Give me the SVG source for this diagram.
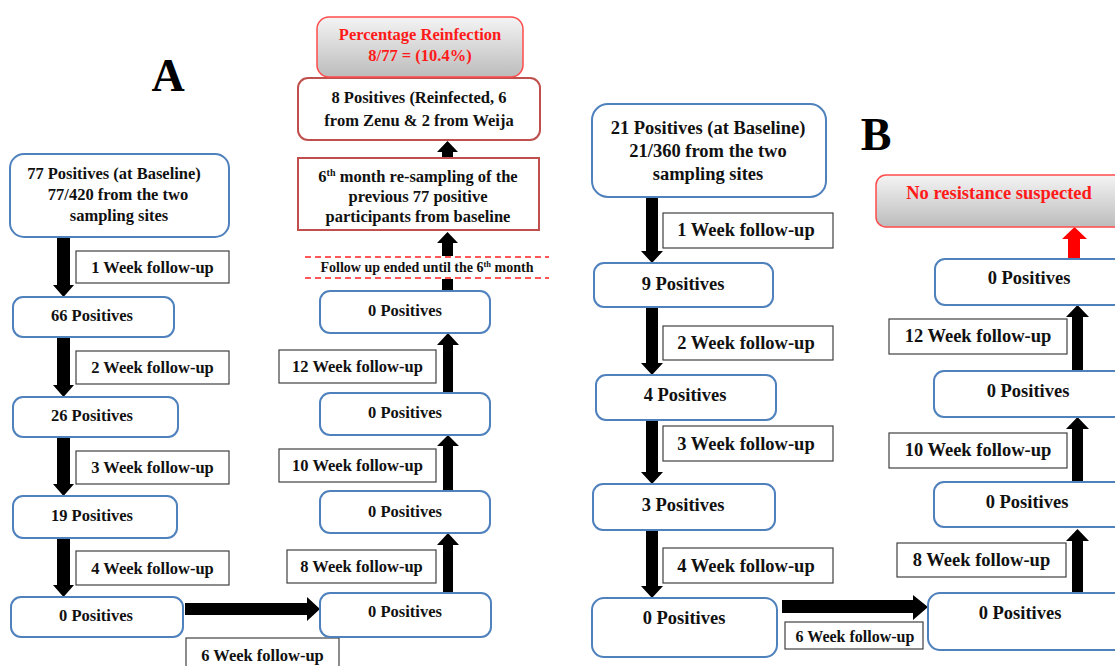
<svg xmlns="http://www.w3.org/2000/svg" width="1115" height="666" viewBox="0 0 1115 666">
<defs>
<linearGradient id="gr" x1="0" y1="0" x2="0" y2="1">
<stop offset="0" stop-color="#f4f4f4"/>
<stop offset="1" stop-color="#bcbcbc"/>
</linearGradient>
<style>
.nb{fill:#fff;stroke:#4f81bd;stroke-width:2}
.lb{fill:#fff;stroke:#404040;stroke-width:1.2}
.rb{fill:#fff;stroke:#c0504d;stroke-width:2}
.gb{fill:url(#gr);stroke:#ff4b4b;stroke-width:1.5}
text{font-family:"Liberation Serif","Times New Roman",serif;font-weight:bold;fill:#111;text-anchor:middle}
.a{font-size:16.5px}
.b{font-size:18.5px}
.red{fill:#ff1a1a}
.big{font-size:46px;fill:#000}
.sm{font-size:14px}
.ar{fill:#000}
.dash{stroke:#ff2020;stroke-width:1.5;stroke-dasharray:6 4;fill:none}
</style>
</defs>

<text class="big" x="168" y="91">A</text>
<text class="big" x="876" y="150">B</text>

<g id="connectors">
<polygon class="ar" points="57,237 70,237 70,285 74,285 63.5,297 53,285 57,285"/>
<polygon class="ar" points="57,337 70,337 70,385 74,385 63.5,397 53,385 57,385"/>
<polygon class="ar" points="57,437 70,437 70,484 74,484 63.5,496 53,484 57,484"/>
<polygon class="ar" points="57,538 70,538 70,585 74,585 63.5,597 53,585 57,585"/>
<polygon class="ar" points="185,603 307,603 307,597 320,609 307,621 307,615 185,615"/>
<polygon class="ar" points="443,593 453,593 453,545 459,545 448,533 437,545 443,545"/>
<polygon class="ar" points="443,491 453,491 453,446 459,446 448,435 437,446 443,446"/>
<polygon class="ar" points="443,393 453,393 453,345 459,345 448,333 437,345 443,345"/>
<rect class="ar" x="442" y="279" width="11" height="12"/>
<polygon class="ar" points="442,256 453,256 453,243 458,243 447.5,232 437,243 442,243"/>
<polygon class="ar" points="442,158 453,158 453,152 458,152 447.5,141 437,152 442,152"/>
<line class="dash" x1="305" y1="257" x2="549" y2="257"/>
<line class="dash" x1="305" y1="278" x2="549" y2="278"/>
<polygon class="ar" points="646,197 658,197 658,251 663,251 652,263 641,251 646,251"/>
<polygon class="ar" points="646,307 658,307 658,363 663,363 652,375 641,363 646,363"/>
<polygon class="ar" points="646,420 658,420 658,472 663,472 652,484 641,472 646,472"/>
<polygon class="ar" points="646,530 658,530 658,586 663,586 652,598 641,586 646,586"/>
<polygon class="ar" points="782,600 913,600 913,595 928,607 913,620 913,613 782,613"/>
<polygon class="ar" points="1072,593 1083,593 1083,541 1089,541 1077.5,529 1066,541 1072,541"/>
<polygon class="ar" points="1072,483 1083,483 1083,429 1089,429 1077.5,417 1066,429 1072,429"/>
<polygon class="ar" points="1072,371 1083,371 1083,317 1089,317 1077.5,305 1066,317 1072,317"/>
<polygon fill="#ff0000" points="1068,259 1080,259 1080,239 1087,239 1074.5,227 1062,239 1068,239"/>
</g>

<g id="a-baseline"><rect class="nb" x="10" y="154" width="219" height="83" rx="14"/>
<text class="a" x="114" y="179">77 Positives (at Baseline)</text>
<text class="a" x="118" y="200">77/420 from the two</text>
<text class="a" x="119" y="221">sampling sites</text></g>
<g id="a-l1"><rect class="lb" x="76" y="251" width="153" height="32"/><text class="a" x="152.5" y="273">1 Week follow-up</text></g>
<g id="a-66"><rect class="nb" x="13" y="297" width="161" height="40" rx="10"/><text class="a" x="92" y="321">66 Positives</text></g>
<g id="a-l2"><rect class="lb" x="76" y="351" width="153" height="33"/><text class="a" x="152.5" y="373">2 Week follow-up</text></g>
<g id="a-26"><rect class="nb" x="13" y="397" width="165" height="40" rx="10"/><text class="a" x="92" y="421">26 Positives</text></g>
<g id="a-l3"><rect class="lb" x="76" y="451" width="153" height="33"/><text class="a" x="152.5" y="473">3 Week follow-up</text></g>
<g id="a-19"><rect class="nb" x="13" y="496" width="164" height="42" rx="10"/><text class="a" x="92" y="521">19 Positives</text></g>
<g id="a-l4"><rect class="lb" x="76" y="551" width="153" height="34"/><text class="a" x="152.5" y="574">4 Week follow-up</text></g>
<g id="a-0a"><rect class="nb" x="11" y="597" width="172" height="40" rx="10"/><text class="a" x="96" y="621">0 Positives</text></g>
<g id="a-l6"><rect class="lb" x="186" y="638" width="153" height="34"/><text class="a" x="262.5" y="661">6 Week follow-up</text></g>
<g id="a-0b"><rect class="nb" x="320" y="593" width="171" height="44" rx="10"/><text class="a" x="405" y="617">0 Positives</text></g>
<g id="a-l8"><rect class="lb" x="287" y="550" width="149" height="33"/><text class="a" x="361.5" y="572">8 Week follow-up</text></g>
<g id="a-0c"><rect class="nb" x="320" y="491" width="170" height="42" rx="10"/><text class="a" x="405" y="517">0 Positives</text></g>
<g id="a-l10"><rect class="lb" x="279" y="449" width="157" height="33"/><text class="a" x="357.5" y="471">10 Week follow-up</text></g>
<g id="a-0d"><rect class="nb" x="320" y="393" width="170" height="42" rx="10"/><text class="a" x="405" y="418">0 Positives</text></g>
<g id="a-l12"><rect class="lb" x="279" y="350" width="157" height="33"/><text class="a" x="357.5" y="372">12 Week follow-up</text></g>
<g id="a-0e"><rect class="nb" x="320" y="291" width="170" height="42" rx="10"/><text class="a" x="405" y="316">0 Positives</text></g>
<g id="a-ended"><text class="sm" x="427" y="272">Follow up ended until the 6<tspan style="font-size:8.5px" dy="-5">th</tspan><tspan dy="5"> month</tspan></text></g>
<g id="a-resample"><rect class="rb" x="298" y="158" width="241" height="72"/>
<text class="a" x="418" y="182">6<tspan style="font-size:10px" dy="-6">th</tspan><tspan dy="6"> month re-sampling of the</tspan></text>
<text class="a" x="418" y="202">previous 77 positive</text>
<text class="a" x="418" y="222">participants from baseline</text></g>
<g id="a-reinf"><rect class="rb" x="298" y="78" width="242" height="62" rx="10"/>
<text class="a" x="419" y="103">8 Positives (Reinfected, 6</text>
<text class="a" x="419" y="126">from Zenu &amp; 2 from Weija</text></g>
<g id="a-pct"><rect class="gb" x="317" y="17" width="206" height="60" rx="12"/>
<text class="red" x="420" y="40" style="font-size:16.5px">Percentage Reinfection</text>
<text class="red" x="420" y="61" style="font-size:16.5px">8/77 = (10.4%)</text></g>

<g id="b-baseline"><rect class="nb" x="592" y="104" width="234" height="93" rx="16"/>
<text class="b" x="708" y="134">21 Positives (at Baseline)</text>
<text class="b" x="708" y="157">21/360 from the two</text>
<text class="b" x="708" y="180">sampling sites</text></g>
<g id="b-l1"><rect class="lb" x="663" y="213" width="170" height="35"/><text class="b" x="746" y="236">1 Week follow-up</text></g>
<g id="b-9"><rect class="nb" x="594" y="263" width="179" height="44" rx="10"/><text class="b" x="683" y="290">9 Positives</text></g>
<g id="b-l2"><rect class="lb" x="663" y="326" width="170" height="34"/><text class="b" x="746" y="349">2 Week follow-up</text></g>
<g id="b-4"><rect class="nb" x="596" y="375" width="180" height="45" rx="10"/><text class="b" x="685" y="401">4 Positives</text></g>
<g id="b-l3"><rect class="lb" x="663" y="426" width="170" height="35"/><text class="b" x="746" y="450">3 Week follow-up</text></g>
<g id="b-3"><rect class="nb" x="593" y="484" width="182" height="46" rx="10"/><text class="b" x="683" y="511">3 Positives</text></g>
<g id="b-l4"><rect class="lb" x="663" y="548" width="170" height="35"/><text class="b" x="746" y="572">4 Week follow-up</text></g>
<g id="b-0a"><rect class="nb" x="592" y="598" width="185" height="59" rx="12"/><text class="b" x="684" y="624">0 Positives</text></g>
<g id="b-l6"><rect class="lb" x="785" y="622" width="138" height="27"/><text x="855" y="642" style="font-size:16px">6 Week follow-up</text></g>
<g id="b-0b"><rect class="nb" x="928" y="593" width="200" height="57" rx="12"/><text class="b" x="1020" y="619">0 Positives</text></g>
<g id="b-l8"><rect class="lb" x="897" y="543" width="169" height="34"/><text class="b" x="981.5" y="566">8 Week follow-up</text></g>
<g id="b-0c"><rect class="nb" x="934" y="482" width="195" height="45" rx="10"/><text class="b" x="1027" y="508">0 Positives</text></g>
<g id="b-l10"><rect class="lb" x="889" y="433" width="178" height="35"/><text class="b" x="978" y="456">10 Week follow-up</text></g>
<g id="b-0d"><rect class="nb" x="934" y="371" width="195" height="46" rx="10"/><text class="b" x="1028" y="397">0 Positives</text></g>
<g id="b-l12"><rect class="lb" x="889" y="319" width="178" height="35"/><text class="b" x="978" y="342">12 Week follow-up</text></g>
<g id="b-0e"><rect class="nb" x="935" y="259" width="195" height="46" rx="10"/><text class="b" x="1029" y="284">0 Positives</text></g>
<g id="b-nores"><rect class="gb" x="876" y="175" width="260" height="52" rx="10"/>
<text class="b red" x="999" y="199">No resistance suspected</text></g>
</svg>
